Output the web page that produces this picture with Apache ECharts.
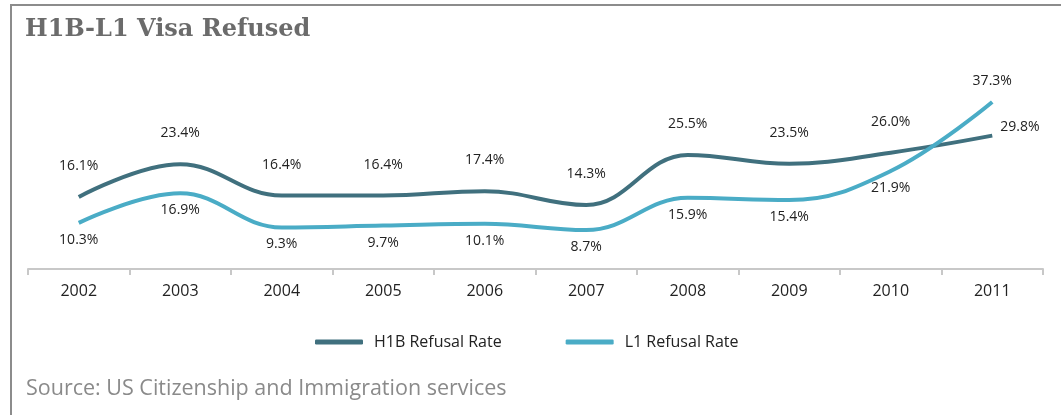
<!DOCTYPE html>
<html>
<head>
<meta charset="utf-8">
<script src="https://cdn.jsdelivr.net/npm/echarts@6/dist/echarts.min.js"></script>
<style>
  html, body { margin: 0; padding: 0; background: #fff; }
  #main { width: 1061px; height: 415px; }
</style>
</head>
<body>
<div id="main"></div>
<script>
// data
var years = ["2002", "2003", "2004", "2005", "2006", "2007", "2008", "2009", "2010", "2011"];
var h1bRate = [16.1, 23.4, 16.4, 16.4, 17.4, 14.3, 25.5, 23.5, 26.0, 29.8];
var l1Rate = [10.3, 16.9, 9.3, 9.7, 10.1, 8.7, 15.9, 15.4, 21.9, 37.3];

var h1bColor = "#40707e";
var l1Color = "#4aacc6";

function pct(p) {
  return p.value.toFixed(1) + "%";
}

var myChart = echarts.init(document.getElementById("main"));

// last H1B label sits on the right of the point
var h1bData = h1bRate.map(function (v, i) {
  if (i === h1bRate.length - 1) {
    return { value: v, label: { position: "right", distance: 8, offset: [0, -9] } };
  }
  return v;
});
// last L1 label sits above
var l1Data = l1Rate.map(function (v, i) {
  if (i === l1Rate.length - 1) {
    return { value: v, label: { position: "top", distance: 14 } };
  }
  return v;
});

var option = {
  animation: false,
  title: {
    text: "H1B-L1 Visa Refused",
    left: 20,
    top: 13,
    textStyle: {
      fontFamily: "DejaVu Serif",
      fontWeight: "bold",
      fontSize: 24,
      color: "#6b6b6b"
    }
  },
  graphic: [
    {
      type: "polyline",
      shape: { points: [[11, 415], [11, 5], [1061, 5]] },
      style: { stroke: "#8c8c8c", lineWidth: 2, fill: null }
    },
    {
      type: "text",
      left: 26,
      top: 378,
      style: {
        text: "Source: US Citizenship and Immigration services",
        fontFamily: "Open Sans",
        fontSize: 21.5,
        fill: "#8a8a8a"
      }
    }
  ],
  legend: {
    left: 310,
    top: 329,
    itemGap: 64,
    itemWidth: 48,
    itemHeight: 5,
    icon: "roundRect",
    textStyle: {
      fontFamily: "Open Sans",
      fontSize: 16,
      color: "#222",
      padding: [0, 0, 0, 6]
    },
    data: ["H1B Refusal Rate", "L1 Refusal Rate"]
  },
  grid: {
    left: 28,
    right: 18,
    top: 90,
    bottom: 146
  },
  xAxis: {
    type: "category",
    data: years,
    boundaryGap: true,
    axisLine: { lineStyle: { color: "#c8c8c8", width: 2 } },
    axisTick: { show: true, inside: false, length: 6, lineStyle: { color: "#c8c8c8", width: 2 } },
    axisLabel: {
      margin: 14,
      fontFamily: "Open Sans",
      fontSize: 16,
      color: "#222"
    }
  },
  yAxis: {
    type: "value",
    min: 0,
    max: 40,
    show: false,
    splitLine: { show: false }
  },
  series: [
    {
      name: "H1B Refusal Rate",
      type: "line",
      smooth: 0.4,
      symbol: "circle",
      symbolSize: 0.1,
      showSymbol: true,
      data: h1bData,
      itemStyle: { color: h1bColor },
      lineStyle: { color: h1bColor, width: 4 },
      label: {
        show: true,
        position: "top",
        distance: 24,
        formatter: pct,
        fontFamily: "Open Sans",
        fontSize: 14,
        color: "#222"
      }
    },
    {
      name: "L1 Refusal Rate",
      type: "line",
      smooth: 0.4,
      symbol: "circle",
      symbolSize: 0.1,
      showSymbol: true,
      data: l1Data,
      itemStyle: { color: l1Color },
      lineStyle: { color: l1Color, width: 4 },
      label: {
        show: true,
        position: "bottom",
        distance: 10,
        formatter: pct,
        fontFamily: "Open Sans",
        fontSize: 14,
        color: "#222"
      }
    }
  ]
};

myChart.setOption(option);
</script>
</body>
</html>
